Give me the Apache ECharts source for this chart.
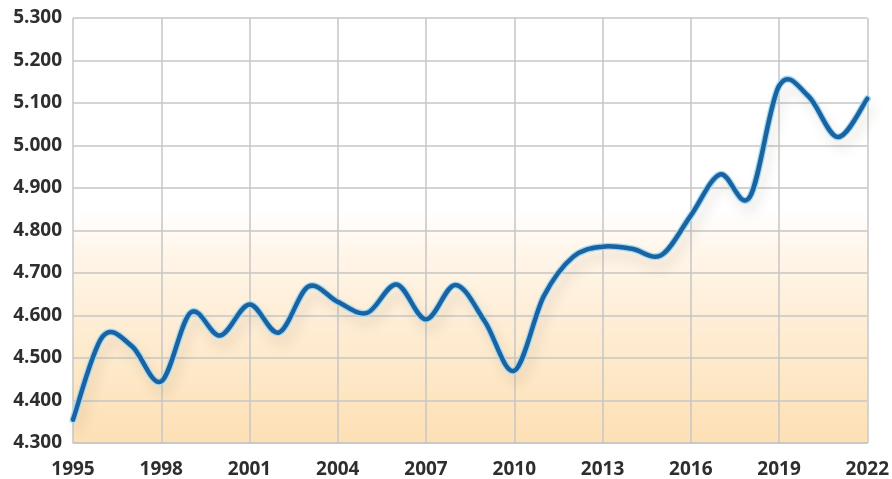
<!DOCTYPE html>
<html>
<head>
<meta charset="utf-8">
<script src="https://cdn.jsdelivr.net/npm/echarts@6/dist/echarts.min.js"></script>
<style>
  html, body { margin: 0; padding: 0; background: #ffffff; }
  #chart { width: 892px; height: 479px; }
</style>
</head>
<body>
<div id="chart"></div>
<script>
// Years on the x axis
const years = [
  '1995','1996','1997','1998','1999','2000','2001','2002','2003','2004',
  '2005','2006','2007','2008','2009','2010','2011','2012','2013','2014',
  '2015','2016','2017','2018','2019','2020','2021','2022'
];

// Yearly values
const values = [
  4355, 4550, 4528, 4445, 4607, 4553, 4626, 4560, 4668, 4632,
  4606, 4673, 4591, 4672, 4586, 4470, 4645, 4738, 4762, 4757,
  4742, 4835, 4932, 4878, 5140, 5116, 5020, 5110
];

// Value-axis range and step
const yMin = 4300;
const yMax = 5300;
const yStep = 100;

// Dot as thousands separator: 4300 -> "4.300"
function fmtThousands(v) {
  const s = String(Math.round(v));
  return s.replace(/\B(?=(\d{3})+(?!\d))/g, '.');
}

// Catmull-Rom spline through the projected points, as an SVG path string
function splinePath(pts) {
  let d = 'M' + pts[0][0] + ' ' + pts[0][1];
  for (let i = 0; i < pts.length - 1; i++) {
    const p0 = pts[Math.max(i - 1, 0)];
    const p1 = pts[i];
    const p2 = pts[i + 1];
    const p3 = pts[Math.min(i + 2, pts.length - 1)];
    const c1x = p1[0] + (p2[0] - p0[0]) / 6;
    const c1y = p1[1] + (p2[1] - p0[1]) / 6;
    const c2x = p2[0] - (p3[0] - p1[0]) / 6;
    const c2y = p2[1] - (p3[1] - p1[1]) / 6;
    d += ' C' + c1x + ' ' + c1y + ' ' + c2x + ' ' + c2y + ' ' + p2[0] + ' ' + p2[1];
  }
  return d;
}

const chart = echarts.init(document.getElementById('chart'), null, { renderer: 'canvas' });

const gridColor = '#c6c6c6';
const labelFont = {
  fontFamily: '"Open Sans", "DejaVu Sans", sans-serif',
  fontWeight: 'bold',
  fontSize: 19,
  color: '#2e2e2e'
};

chart.setOption({
  animation: false,
  backgroundColor: '#ffffff',
  grid: {
    left: 73,
    right: 24,
    top: 18,
    bottom: 35,
    show: true,
    borderWidth: 0,
    backgroundColor: new echarts.graphic.LinearGradient(0, 0, 0, 1, [
      { offset: 0, color: '#ffffff' },
      { offset: 0.45, color: '#ffffff' },
      { offset: 0.56, color: '#fff5e8' },
      { offset: 1, color: '#fde0b4' }
    ])
  },
  xAxis: {
    type: 'category',
    data: years,
    boundaryGap: false,
    axisLine: { show: true, lineStyle: { color: gridColor, width: 1.5 } },
    axisTick: { show: false },
    axisLabel: Object.assign({ interval: 2, margin: 17 }, labelFont),
    splitLine: { show: true, interval: 2, lineStyle: { color: gridColor, width: 1.5 } }
  },
  yAxis: {
    type: 'value',
    min: yMin,
    max: yMax,
    interval: yStep,
    axisLine: { show: false },
    axisTick: { show: false },
    axisLabel: Object.assign({ margin: 11, formatter: fmtThousands }, labelFont),
    splitLine: { show: true, lineStyle: { color: gridColor, width: 1.5 } }
  },
  series: [{
    type: 'custom',
    data: values.map((v, i) => [i, v]),
    encode: { x: 0, y: 1 },
    clip: false,
    renderItem: function (params, api) {
      // The whole curve is drawn once, from the first item
      if (params.dataIndex !== 0) return null;
      const pts = values.map((v, i) => api.coord([i, v]));
      const d = splinePath(pts);
      return {
        type: 'group',
        children: [
          {
            type: 'path',
            shape: { pathData: d },
            style: {
              fill: null,
              stroke: 'rgba(90, 70, 50, 0.30)',
              lineWidth: 6,
              shadowColor: 'rgba(90, 70, 50, 0.45)',
              shadowBlur: 12,
              shadowOffsetX: 4,
              shadowOffsetY: 9,
              lineJoin: 'round',
              lineCap: 'round'
            }
          },
          {
            type: 'path',
            shape: { pathData: d },
            style: {
              fill: null,
              stroke: '#a3daf3',
              lineWidth: 7,
              lineJoin: 'round',
              lineCap: 'round'
            }
          },
          {
            type: 'path',
            shape: { pathData: d },
            style: {
              fill: null,
              stroke: '#1b63a0',
              lineWidth: 4.5,
              lineJoin: 'round',
              lineCap: 'round'
            }
          }
        ]
      };
    }
  }]
});
</script>
</body>
</html>
